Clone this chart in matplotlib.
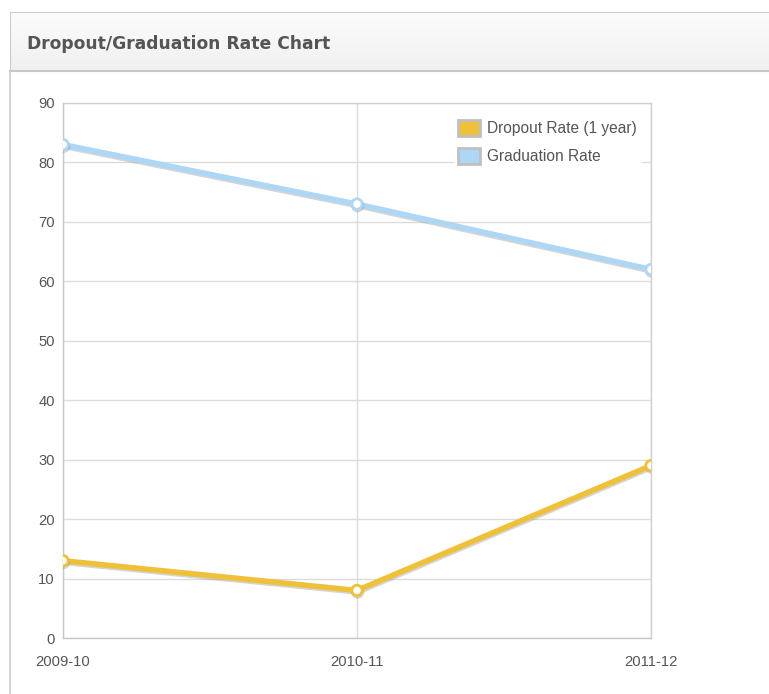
import numpy as np
import matplotlib
matplotlib.use("Agg")
import matplotlib.pyplot as plt
import matplotlib.patheffects as pe
from matplotlib.patches import Patch
from matplotlib.lines import Line2D

# data
years = ["2009-10", "2010-11", "2011-12"]
dropout_rate = [13, 8, 29]
graduation_rate = [83, 73, 62]
y_ticks = [0, 10, 20, 30, 40, 50, 60, 70, 80, 90]

W, H = 769, 694
fig = plt.figure(figsize=(W / 100, H / 100), dpi=100)
fig.patch.set_facecolor("white")

def fx(px):
    return px / W

def fy(py):
    return 1 - py / H

# header bar with soft grey gradient
hdr = fig.add_axes([fx(10), fy(71), 1 - fx(10), (71 - 12) / H])
grad = np.linspace(0, 1, 64).reshape(-1, 1)
hdr.imshow(grad, aspect="auto", cmap=matplotlib.colors.LinearSegmentedColormap.from_list(
    "hdr", ["#fcfcfc", "#f0f0f0"]), extent=[0, 1, 0, 1], origin="upper")
hdr.set_xticks([])
hdr.set_yticks([])
for s in hdr.spines.values():
    s.set_color("#cccccc")
hdr.spines["right"].set_visible(False)
hdr.spines["bottom"].set_color("#c8c8c8")
hdr.spines["bottom"].set_linewidth(1.5)

fig.text(fx(27), fy(44), "Dropout/Graduation Rate Chart", fontsize=12.3,
         fontweight="bold", color="#555555", va="center", ha="left",
         family="DejaVu Sans")

# left border of the panel body
fig.add_artist(Line2D([fx(10), fx(10)], [fy(71), 0], color="#cccccc", lw=1.2))

ax = fig.add_axes([fx(63), fy(638), fx(651) - fx(63), fy(103) - fy(638)])
x = np.arange(len(years))

shadow = [pe.SimpleLineShadow(offset=(0.5, -1.2), shadow_color="#777777", alpha=0.3),
          pe.Normal()]

ax.plot(x, graduation_rate, color="#aed6f5", lw=4.0, marker="o", ms=7.5,
        mfc="white", mec="#aed6f5", mew=2.0, path_effects=shadow,
        solid_joinstyle="round", zorder=3)
ax.plot(x, dropout_rate, color="#efc13a", lw=4.0, marker="o", ms=7.5,
        mfc="white", mec="#efc13a", mew=2.0, path_effects=shadow,
        solid_joinstyle="round", zorder=3)

ax.set_xlim(0, len(years) - 1)
ax.set_ylim(0, 90)
ax.set_xticks(x)
ax.set_xticklabels(years)
ax.set_yticks(y_ticks)
ax.grid(True, color="#dcdcdc", lw=1)
ax.set_axisbelow(True)
for s in ax.spines.values():
    s.set_color("#d0d0d0")
    s.set_linewidth(1)
ax.spines["left"].set_color("#c8c8c8")
ax.spines["bottom"].set_color("#c8c8c8")
ax.tick_params(length=0, pad=6, labelcolor="#555555")
for lbl in ax.get_xticklabels() + ax.get_yticklabels():
    lbl.set_family(["Liberation Sans", "DejaVu Sans"])
    lbl.set_fontsize(10.6)
ax.tick_params(axis="x", pad=12)

handles = [Patch(facecolor="#efc13a", edgecolor="#c0c0c0", lw=2),
           Patch(facecolor="#aed6f5", edgecolor="#c0c0c0", lw=2)]
leg = ax.legend(handles, ["Dropout Rate (1 year)", "Graduation Rate"],
                loc="upper left", bbox_to_anchor=(fx(454), fy(116)),
                bbox_transform=fig.transFigure, frameon=True,
                prop={"family": "Liberation Sans", "size": 11.2},
                handlelength=1.4, handleheight=1.25, handletextpad=0.5,
                labelspacing=0.75, borderpad=0.25, borderaxespad=0)
leg.get_frame().set_facecolor("white")
leg.get_frame().set_edgecolor("white")
leg.get_frame().set_alpha(1)
leg.get_frame().set_boxstyle("square", pad=0)
for t in leg.get_texts():
    t.set_color("#555555")

fig.savefig("out.png", dpi=100)
